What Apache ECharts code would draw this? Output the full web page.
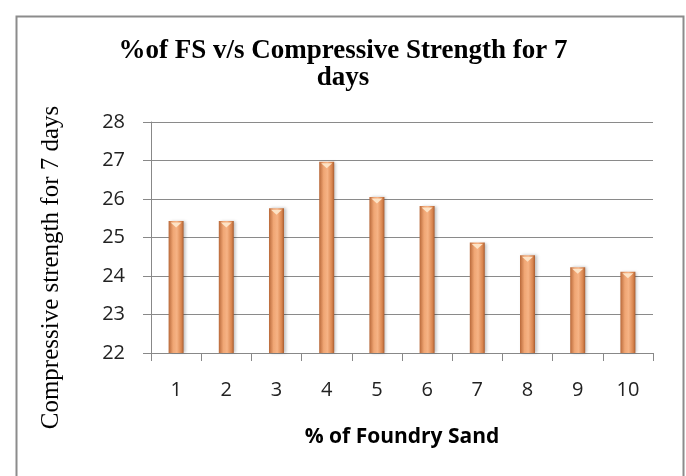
<!DOCTYPE html>
<html>
<head>
<meta charset="utf-8">
<script src="https://cdn.jsdelivr.net/npm/echarts@6/dist/echarts.min.js"></script>
<style>html,body{margin:0;padding:0;background:#fff;}#c{width:686px;height:476px;}</style>
</head>
<body>
<div id="c"></div>
<script>
var categories = ['1','2','3','4','5','6','7','8','9','10'];
var strength7 = [25.43, 25.43, 25.76, 26.97, 26.05, 25.82, 24.87, 24.54, 24.23, 24.11];
var yTicks = {min: 22, max: 28, interval: 1};
var titleText = '%of FS v/s Compressive Strength for 7\ndays';
var xName = '% of Foundry Sand';
var yName = 'Compressive strength for 7 days';

var caps = categories.map(function (c, i) { return {coord: [c, strength7[i]]}; });

var chart = echarts.init(document.getElementById('c'), null, {renderer: 'canvas'});
chart.setOption({
  backgroundColor: '#fff',
  animation: false,
  graphic: [{
    type: 'rect', left: 14, top: 14, z: -1,
    shape: {x: 0, y: 0, width: 667, height: 480},
    style: {fill: 'none', stroke: '#8c8c8c', lineWidth: 2}
  }],
  title: {
    text: titleText, left: 'center', top: 33,
    textStyle: {fontFamily: 'Liberation Serif', fontWeight: 'bold', fontSize: 27, lineHeight: 27, color: '#000'}
  },
  grid: {left: 151, right: 33, top: 122, bottom: 123},
  xAxis: {
    type: 'category', data: categories,
    name: xName, nameLocation: 'middle', nameGap: 74,
    nameTextStyle: {fontFamily: 'Open Sans', fontWeight: 'bold', fontSize: 21, color: '#000'},
    axisLine: {lineStyle: {color: '#888', width: 1}},
    axisTick: {show: true, length: 8, lineStyle: {color: '#888'}},
    axisLabel: {margin: 27, fontFamily: 'Open Sans', fontSize: 20, color: '#222'}
  },
  yAxis: {
    type: 'value', min: yTicks.min, max: yTicks.max, interval: yTicks.interval,
    name: yName, nameLocation: 'middle', nameGap: 87,
    nameTextStyle: {fontFamily: 'Liberation Serif', fontSize: 25, color: '#000', padding: [0, 60, 0, 0]},
    axisLine: {show: true, lineStyle: {color: '#888'}},
    axisTick: {show: true, length: 8, lineStyle: {color: '#888'}},
    axisLabel: {margin: 26, fontFamily: 'Open Sans', fontSize: 20, color: '#222'},
    splitLine: {lineStyle: {color: '#8a8a8a', width: 1}}
  },
  series: [{
    type: 'bar', data: strength7, barWidth: 15,
    itemStyle: {
      color: new echarts.graphic.LinearGradient(0, 0, 1, 0, [
        {offset: 0, color: '#b9693a'},
        {offset: 0.3, color: '#f0a674'},
        {offset: 0.55, color: '#f6b385'},
        {offset: 0.85, color: '#d9854e'},
        {offset: 1, color: '#a85d31'}
      ]),
      shadowColor: 'rgba(0,0,0,0.25)', shadowBlur: 3, shadowOffsetX: 2
    },
    markPoint: {
      symbol: 'path://M0,0 L10,0 L5,5 Z',
      symbolSize: [11, 5],
      symbolOffset: [0, 4],
      label: {show: false},
      itemStyle: {color: '#fde3c6'},
      silent: true,
      data: caps
    }
  }]
});
</script>
</body>
</html>
